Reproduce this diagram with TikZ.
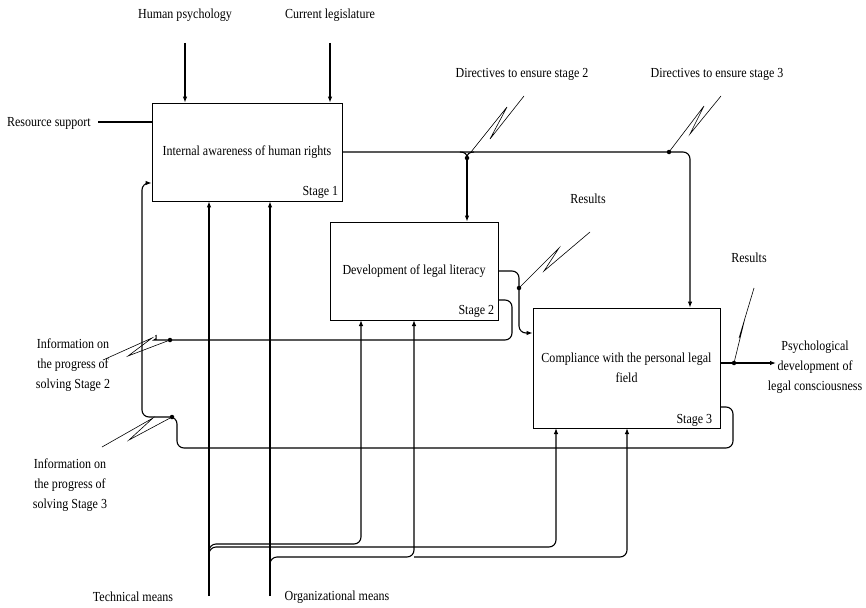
\documentclass[tikz,border=0pt]{standalone}
\usepackage{fontspec}
\setmainfont{Liberation Serif}[FakeStretch=0.87]
\usetikzlibrary{arrows.meta}
\begin{document}
\begin{tikzpicture}[x=1pt,y=-1pt,
  tf/.style={font=\fontsize{13.8pt}{20pt}\selectfont},
  box/.style={draw, line width=0.8pt, inner sep=0pt, align=center, tf},
  lab/.style={inner sep=0pt, align=center, tf},
  flow/.style={line width=1.1pt, rounded corners=7pt},
  arr/.style={-{Latex[length=6pt,width=4.5pt]}},
  squig/.style={line width=0.6pt, line join=miter},
  dot/.style={circle, fill, inner sep=0pt, minimum size=4.5pt}]
\useasboundingbox (0,0) rectangle (866,607);

% boxes
\node[box, minimum width=190pt, minimum height=98pt] (b1) at (247,152) {Internal awareness of human rights};
\node[box, minimum width=168pt, minimum height=98pt] (b2) at (414,271) {Development of legal literacy};
\node[box, minimum width=187pt, minimum height=120pt] (b3) at (626.5,368) {Compliance with the personal legal\\field};
\node[lab, anchor=base east] (s1) at ([shift={(-4pt,6pt)}]b1.south east) {Stage 1};
\node[lab, anchor=base east] (s2) at ([shift={(-4pt,6pt)}]b2.south east) {Stage 2};
\node[lab, anchor=base east] (s3) at ([shift={(-8pt,5pt)}]b3.south east) {Stage 3};

% labels
\node[lab] (hp) at (185,15) {Human psychology};
\node[lab] (cl) at (330,15) {Current legislature};
\node[lab, anchor=east] (rs) at (91,123) {Resource support};
\node[lab] (d2) at (522,74) {Directives to ensure stage 2};
\node[lab] (d3) at (717,74) {Directives to ensure stage 3};
\node[lab] (r1) at (588,199) {Results};
\node[lab] (r2) at (749,258) {Results};
\node[lab] (ps) at (815,367) {Psychological\\development of\\legal consciousness};
\node[lab] (i2) at (73,365) {Information on\\the progress of\\solving Stage 2};
\node[lab] (i3) at (70,485) {Information on\\the progress of\\solving Stage 3};
\node[lab] (tm) at (133,597) {Technical means};
\node[lab] (om) at (337,597) {Organizational means};

% coordinates
\coordinate (hpS) at (185,43);
\coordinate (clS) at (330,43);
\coordinate (rsE) at (98,122);
\coordinate (x690) at (690,0);
\coordinate (tmS) at (209,596);
\coordinate (omS) at (270,596);

% top inputs
\draw[flow, arr] (hpS) -- (hpS |- b1.north);
\draw[flow, arr] (clS) -- (clS |- b1.north);
\draw[flow] (rsE) -- (rsE -| b1.west);

% output of stage 1
\draw[flow, arr] (b1.east) -- (x690 |- b1.east) -- (x690 |- b3.north);
\coordinate (jd2) at (467,158);
\draw[flow, rounded corners=0pt] (460,152) .. controls (465,152) and (467,154) .. (jd2);
\draw[flow, rounded corners=0pt] (474,152) .. controls (469,152) and (467,154) .. (jd2);
\node[dot] (jn2) at (jd2) {};
\draw[flow, arr] (jn2.center) -- (jn2.center |- b2.north);
\node[dot] (jn3) at (669,152) {};
\draw[squig] (524,96) -- (490,139) -- (507,107) -- (471,152);
\draw[squig] (721,96) -- (690,134) -- (704,106) -- (jn3.center);

% output of stage 2
\draw[flow, arr] (b2.east) -- (519,271) -- (519,333) -- ([yshift=35pt]b3.west);
\node[dot] (jr1) at (519,288) {};
\draw[squig] (590,232) -- (544,271) -- (559,248) -- (jr1.center);

% feedback of stage 2
\draw[flow] ([yshift=-29pt]b2.east) -- (512,300) -- (512,340) -- (161,340) [rounded corners=0pt] .. controls (157,340) and (156,338) .. (156,335);
\node[dot] (ji2) at (170,340) {};
\draw[squig] (103,360) -- (152,338) -- (128,356) -- (ji2.center);

% feedback of stage 3
\draw[flow, arr] ([yshift=-39pt]b3.east) -- (733,407) -- (733,448) -- (177,448) -- (177,417) -- (142,417) -- (142,183) [rounded corners=5pt] -- ([yshift=-31pt]b1.west);
\node[dot] (ji3) at (172,417) {};
\draw[squig] (102,447) -- (153,418) -- (129,440) -- (ji3.center);

% output of stage 3
\draw[flow, arr] ([yshift=5pt]b3.east) -- (776,363);
\node[dot] (jr2) at (734,363) {};
\draw[squig] (754,288) -- (739,338) -- (745,318) -- (jr2.center);

% mechanisms
\draw[flow, arr] (tmS) -- (tmS |- b1.south);
\draw[flow, arr] (omS) -- (omS |- b1.south);
\draw[flow, arr] (209,562) -- (209,544) -- (361,544) -- (361,320);
\draw[flow, arr] (209,566) -- (209,547) -- (556,547) -- (556,428);
\draw[flow, arr] (270,575) -- (270,557) -- (414,557) -- (414,320);
\draw[flow, arr] (414,557) -- (627,557) -- (627,428);
\end{tikzpicture}
\end{document}
